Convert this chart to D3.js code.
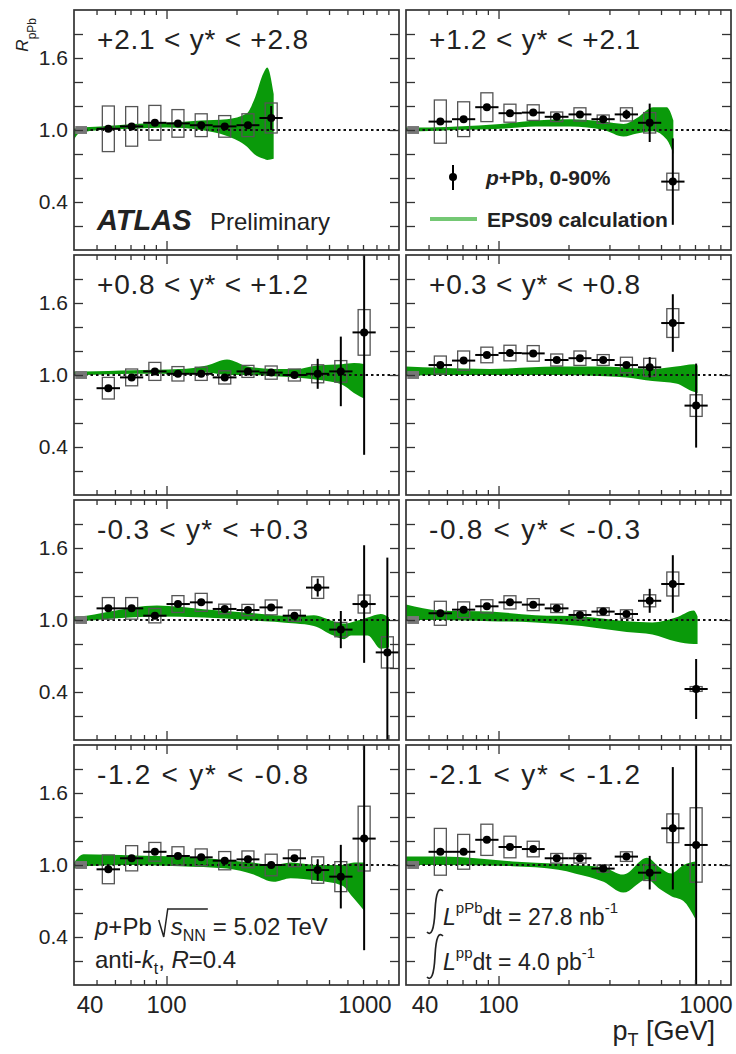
<!doctype html>
<html>
<head>
<meta charset="utf-8">
<script src="https://d3js.org/d3.v7.min.js"></script>
<style>
  body { margin: 0; background: #fff; }
  svg text { font-family: "Liberation Sans", Arial, sans-serif; fill: #222; }
</style>
</head>
<body>
<svg width="736" height="1054"></svg>
<script>
// jet pT bin centres and edges [GeV]
const ptCenters = [56.2, 70.8, 89.1, 112, 141, 178, 224, 282, 355, 447, 562, 708, 891];
const ptEdges = [50, 63.1, 79.4, 100, 126, 158, 200, 251, 316, 398, 501, 631, 794, 1000];

const yTitles = ["+2.1 < y* < +2.8", "+1.2 < y* < +2.1", "+0.8 < y* < +1.2", "+0.3 < y* < +0.8",
                 "-0.3 < y* < +0.3", "-0.8 < y* < -0.3", "-1.2 < y* < -0.8", "-2.1 < y* < -1.2"];

// R_pPb per rapidity panel
const ratio = [
  [1.01, 1.03, 1.06, 1.055, 1.04, 1.03, 1.04, 1.10],
  [1.07, 1.09, 1.19, 1.14, 1.145, 1.11, 1.13, 1.09, 1.13, 1.06, 0.57],
  [0.89, 0.98, 1.03, 1.01, 1.01, 0.98, 1.03, 1.02, 1.0, 1.01, 1.03, 1.355],
  [1.083, 1.12, 1.167, 1.183, 1.18, 1.125, 1.14, 1.125, 1.083, 1.064, 1.433, 0.745],
  [1.097, 1.097, 1.036, 1.133, 1.147, 1.092, 1.083, 1.105, 1.036, 1.27, 0.92, 1.133, 0.73],
  [1.056, 1.086, 1.114, 1.147, 1.128, 1.097, 1.042, 1.07, 1.05, 1.16, 1.30, 0.425],
  [0.964, 1.056, 1.11, 1.075, 1.064, 1.036, 1.047, 1.0, 1.056, 0.958, 0.903, 1.22],
  [1.11, 1.11, 1.21, 1.15, 1.133, 1.056, 1.056, 0.97, 1.07, 0.936, 1.306, 1.167]
];
// statistical uncertainty
const statErr = [
  [0.01, 0.01, 0.01, 0.01, 0.01, 0.015, 0.02, 0.10],
  [0.01, 0.01, 0.01, 0.01, 0.01, 0.01, 0.015, 0.02, 0.04, 0.16, 0.36],
  [0.01, 0.01, 0.01, 0.01, 0.01, 0.01, 0.01, 0.015, 0.02, 0.125, 0.29, 1.02],
  [0.01, 0.01, 0.01, 0.01, 0.01, 0.01, 0.01, 0.01, 0.02, 0.085, 0.24, 0.35],
  [0.01, 0.01, 0.01, 0.01, 0.01, 0.01, 0.01, 0.01, 0.02, 0.075, 0.155, 0.49, 0.79],
  [0.01, 0.01, 0.01, 0.01, 0.01, 0.01, 0.01, 0.01, 0.02, 0.10, 0.24, 0.25],
  [0.01, 0.01, 0.01, 0.01, 0.01, 0.01, 0.01, 0.015, 0.025, 0.09, 0.265, 0.93],
  [0.01, 0.01, 0.01, 0.01, 0.01, 0.01, 0.01, 0.01, 0.03, 0.14, 0.51, 1.2]
];
// systematic uncertainty (boxes)
const sysErr = [
  [0.19, 0.165, 0.145, 0.115, 0.095, 0.09, 0.095, 0.125],
  [0.18, 0.145, 0.12, 0.075, 0.065, 0.04, 0.055, 0.035, 0.055, 0.085, 0.07],
  [0.09, 0.07, 0.075, 0.06, 0.055, 0.055, 0.05, 0.055, 0.05, 0.075, 0.09, 0.19],
  [0.075, 0.08, 0.065, 0.065, 0.065, 0.05, 0.06, 0.045, 0.065, 0.075, 0.12, 0.09],
  [0.09, 0.09, 0.06, 0.07, 0.075, 0.04, 0.047, 0.062, 0.047, 0.09, 0.06, 0.075, 0.13],
  [0.1, 0.065, 0.055, 0.055, 0.05, 0.035, 0.035, 0.032, 0.035, 0.05, 0.1, 0.02],
  [0.12, 0.105, 0.078, 0.077, 0.07, 0.076, 0.07, 0.09, 0.07, 0.11, 0.125, 0.27],
  [0.195, 0.145, 0.13, 0.09, 0.065, 0.04, 0.04, 0.03, 0.04, 0.065, 0.12, 0.31]
];

// EPS09 band
const bandPt = [
  [40, 42, 52, 72, 100, 140, 182, 222, 238, 262, 271, 289],
  [40, 46, 66, 102, 144, 204, 284, 345, 394, 463, 529, 565],
  [40, 44, 72, 114, 149, 182, 224, 289, 359, 447, 568, 640, 714],
  [40, 56, 92, 178, 288, 356, 459, 580, 692, 718],
  [40, 42, 57, 91, 144, 224, 359, 430, 522, 580, 621, 733, 835, 905],
  [40, 56, 92, 144, 228, 356, 459, 580, 692, 718],
  [40, 44, 72, 114, 182, 237, 289, 342, 442, 568, 640, 714],
  [40, 42, 57, 115, 181, 213, 283, 344, 435, 494, 554, 624, 703]
];
const bandLo = [
  [0.92, 0.97, 1.0, 1.01, 1.02, 1.0, 0.95, 0.86, 0.80, 0.76, 0.75, 0.76],
  [0.99, 0.99, 1.0, 1.01, 1.03, 1.03, 1.0, 0.945, 0.97, 0.99, 0.92, 0.80],
  [1.0, 1.0, 1.01, 1.01, 1.02, 1.0, 1.0, 0.99, 0.98, 0.96, 0.92, 0.85, 0.80],
  [0.99, 1.0, 1.0, 1.0, 0.99, 0.98, 0.95, 0.93, 0.86, 0.85],
  [0.99, 0.99, 1.01, 1.03, 1.02, 1.0, 0.97, 0.95, 0.87, 0.84, 0.87, 0.87, 0.76, 0.77],
  [1.0, 1.0, 0.99, 0.98, 0.95, 0.90, 0.88, 0.82, 0.80, 0.80],
  [0.97, 0.99, 1.0, 0.99, 0.97, 0.92, 0.86, 0.89, 0.87, 0.83, 0.72, 0.61],
  [1.0, 1.0, 1.0, 0.99, 0.96, 0.93, 0.86, 0.77, 0.88, 0.80, 0.74, 0.70, 0.55]
];
const bandHi = [
  [1.01, 1.02, 1.03, 1.05, 1.06, 1.08, 1.09, 1.14, 1.25, 1.48, 1.52, 1.30],
  [1.02, 1.02, 1.03, 1.05, 1.08, 1.09, 1.07, 1.05, 1.10, 1.19, 1.19, 1.08],
  [1.03, 1.03, 1.04, 1.05, 1.08, 1.13, 1.07, 1.05, 1.05, 1.08, 1.09, 1.10, 1.09],
  [1.07, 1.06, 1.05, 1.07, 1.07, 1.06, 1.05, 1.07, 1.09, 1.08],
  [1.03, 1.03, 1.07, 1.12, 1.09, 1.06, 1.03, 1.04, 0.99, 0.97, 0.98, 1.02, 1.05, 1.02],
  [1.13, 1.08, 1.07, 1.04, 1.03, 0.99, 0.98, 1.02, 1.08, 1.03],
  [1.02, 1.09, 1.08, 1.07, 1.04, 1.02, 1.0, 1.02, 1.0, 1.0, 1.02, 1.02],
  [1.07, 1.07, 1.07, 1.03, 1.01, 1.0, 0.98, 0.92, 1.06, 0.98, 0.93, 1.0, 1.03]
];

const yTicks = [0.2, 0.4, 0.6, 0.8, 1.0, 1.2, 1.4, 1.6, 1.8];
const yLabels = [0.4, 1.0, 1.6];
const xMinor = [50, 60, 70, 80, 90, 200, 300, 400, 500, 600, 700, 800, 900];
const xMajor = [100];
const xLabels = [40, 100, 1000];
const normBox = [40.5, 45.5];  // pT range of the normalisation box
const normUnc = 0.033;

const svg = d3.select("svg");
const W = 325, H = 240;
const colX = [74, 406];
const rowY = [10, 255, 500, 745];

const x = d3.scaleLog().domain([40, 1000]).range([0, W]);
const y = d3.scaleLinear().domain([0, 2]).range([H, 0]);

const area = d3.area()
  .x(d => x(d.pt)).y0(d => y(d.lo)).y1(d => y(d.hi))
  .curve(d3.curveMonotoneX);

yTitles.forEach((title, i) => {
  const col = i % 2, row = Math.floor(i / 2);
  const g = svg.append("g").attr("transform", `translate(${colX[col]},${rowY[row]})`);

  g.append("clipPath").attr("id", "clip" + i)
    .append("rect").attr("width", W).attr("height", H);
  const plot = g.append("g").attr("clip-path", `url(#clip${i})`);

  // EPS09 band
  const band = bandPt[i].map((pt, k) => ({pt: pt, lo: bandLo[i][k], hi: bandHi[i][k]}));
  plot.append("path").datum(band).attr("d", area).attr("fill", "#0a9a0a");

  // unity line
  plot.append("line")
    .attr("x1", 0).attr("x2", W).attr("y1", y(1)).attr("y2", y(1))
    .attr("stroke", "#111").attr("stroke-width", 2.2).attr("stroke-dasharray", "2.5,3");

  const pts = ratio[i].map((v, k) => ({
    pt: ptCenters[k], lo: ptEdges[k], hi: ptEdges[k + 1],
    v: v, s: statErr[i][k], sys: sysErr[i][k]
  }));

  // systematic boxes
  plot.selectAll("rect.sys").data(pts).join("rect")
    .attr("x", d => x(d.pt) - 6).attr("width", 12)
    .attr("y", d => y(d.v + d.sys)).attr("height", d => y(d.v - d.sys) - y(d.v + d.sys))
    .attr("fill", "none").attr("stroke", "#555").attr("stroke-width", 1.3);

  // stat error bars
  plot.selectAll("line.ey").data(pts).join("line")
    .attr("x1", d => x(d.pt)).attr("x2", d => x(d.pt))
    .attr("y1", d => y(d.v - d.s)).attr("y2", d => y(d.v + d.s))
    .attr("stroke", "#000").attr("stroke-width", 2);
  plot.selectAll("line.ex").data(pts).join("line")
    .attr("x1", d => x(d.lo)).attr("x2", d => x(d.hi))
    .attr("y1", d => y(d.v)).attr("y2", d => y(d.v))
    .attr("stroke", "#000").attr("stroke-width", 2);
  plot.selectAll("circle").data(pts).join("circle")
    .attr("cx", d => x(d.pt)).attr("cy", d => y(d.v)).attr("r", 4).attr("fill", "#000");

  // normalisation box
  plot.append("rect")
    .attr("x", x(normBox[0])).attr("width", x(normBox[1]) - x(normBox[0]))
    .attr("y", y(1 + normUnc)).attr("height", y(1 - normUnc) - y(1 + normUnc))
    .attr("fill", "#777");

  // ticks (pointing inside)
  const axL = d3.axisLeft(y).tickValues(yTicks).tickSize(-9).tickPadding(6)
    .tickFormat(d => (col === 0 && yLabels.includes(d)) ? d3.format(".1f")(d) : "");
  const gl = g.append("g").call(axL);
  const gr = g.append("g").attr("transform", `translate(${W},0)`)
    .call(d3.axisRight(y).tickValues(yTicks).tickSize(-9).tickFormat(""));
  const gb1 = g.append("g").attr("transform", `translate(0,${H})`)
    .call(d3.axisBottom(x).tickValues(xMinor).tickSize(-5).tickFormat(""));
  const gb2 = g.append("g").attr("transform", `translate(0,${H})`)
    .call(d3.axisBottom(x).tickValues(xMajor).tickSize(-9).tickFormat(""));
  const gt1 = g.append("g").call(d3.axisTop(x).tickValues(xMinor).tickSize(-5).tickFormat(""));
  const gt2 = g.append("g").call(d3.axisTop(x).tickValues(xMajor).tickSize(-9).tickFormat(""));
  [gl, gr, gb1, gb2, gt1, gt2].forEach(a => {
    a.select(".domain").remove();
    a.selectAll(".tick line").attr("stroke", "#333").attr("stroke-width", 1.3);
  });
  gl.selectAll(".tick text").attr("font-size", 21).attr("fill", "#333")
    .attr("font-family", "Liberation Sans, Arial, sans-serif");

  // frame
  g.append("rect").attr("width", W).attr("height", H)
    .attr("fill", "none").attr("stroke", "#333").attr("stroke-width", 1.7);

  // rapidity title
  g.append("text").attr("x", 23).attr("y", 39)
    .attr("font-size", 28).attr("textLength", 211).attr("lengthAdjust", "spacing")
    .text(title);

  // x tick labels on the bottom row
  if (row === 3) {
    const shift = col === 0 ? [16, 0, -34] : [19, 0, -25];
    xLabels.forEach((v, k) => {
      g.append("text").attr("x", x(v) + shift[k]).attr("y", H + 28)
        .attr("text-anchor", "middle").attr("font-size", 24).text(v);
    });
  }
});

// y-axis title
svg.append("text").attr("transform", "translate(28,18) rotate(-90)")
  .attr("text-anchor", "end").attr("font-size", 17)
  .call(t => {
    t.append("tspan").attr("font-style", "italic").text("R");
    t.append("tspan").attr("font-size", 12).attr("dy", 8).text("pPb");
  });

// x-axis title
svg.append("text").attr("x", 715).attr("y", 1040).attr("text-anchor", "end")
  .attr("font-size", 27)
  .call(t => {
    t.append("tspan").text("p");
    t.append("tspan").attr("font-size", 18).attr("dy", 6).text("T");
    t.append("tspan").attr("dy", -6).text(" [GeV]");
  });

// ATLAS label
svg.append("text").attr("x", 97).attr("y", 230).attr("font-size", 29)
  .attr("font-weight", "bold").attr("font-style", "italic").text("ATLAS");
svg.append("text").attr("x", 210).attr("y", 230).attr("font-size", 24).text("Preliminary");

// legend
svg.append("line").attr("x1", 453).attr("x2", 453).attr("y1", 165).attr("y2", 190)
  .attr("stroke", "#000").attr("stroke-width", 2);
svg.append("circle").attr("cx", 453).attr("cy", 177).attr("r", 4).attr("fill", "#000");
svg.append("text").attr("x", 486).attr("y", 185).attr("font-size", 21).attr("font-weight", "bold")
  .call(t => {
    t.append("tspan").attr("font-style", "italic").text("p");
    t.append("tspan").text("+Pb, 0-90%");
  });
svg.append("line").attr("x1", 430).attr("x2", 477).attr("y1", 219).attr("y2", 219)
  .attr("stroke", "#74c874").attr("stroke-width", 4);
svg.append("text").attr("x", 487).attr("y", 227).attr("font-size", 21).attr("font-weight", "bold")
  .text("EPS09 calculation");

// collision system text (bottom left)
const t1 = svg.append("text").attr("x", 95).attr("y", 935).attr("font-size", 24)
  .call(t => {
    t.append("tspan").attr("font-style", "italic").text("p");
    t.append("tspan").text("+Pb");
  });
const sx = 95 + t1.node().getComputedTextLength() + 7;
const t2 = svg.append("text").attr("x", sx + 12).attr("y", 935).attr("font-size", 24)
  .call(t => {
    t.append("tspan").attr("font-style", "italic").text("s");
    t.append("tspan").attr("font-size", 16).attr("dy", 6).text("NN");
  });
const ex = sx + 12 + t2.node().getComputedTextLength() + 2;
svg.append("path").attr("d", `M${sx},920 L${sx + 5},937 L${sx + 9},909 L${ex},909`)
  .attr("fill", "none").attr("stroke", "#222").attr("stroke-width", 1.5);
svg.append("text").attr("x", ex + 5).attr("y", 935).attr("font-size", 24).text("= 5.02 TeV");
svg.append("text").attr("x", 95).attr("y", 968).attr("font-size", 24)
  .call(t => {
    t.append("tspan").text("anti-");
    t.append("tspan").attr("font-style", "italic").text("k");
    t.append("tspan").attr("font-size", 16).attr("dy", 6).text("t");
    t.append("tspan").attr("dy", -6).text(", ");
    t.append("tspan").attr("font-style", "italic").text("R");
    t.append("tspan").text("=0.4");
  });

// luminosity text (bottom right)
[[925, "pPb", "dt = 27.8 nb"], [970, "pp", "dt = 4.0 pb"]].forEach(([yy, sup, rest]) => {
  svg.append("path")
    .attr("d", `M427,${yy + 7} C431,${yy + 11} 434,${yy + 6} 435,${yy - 14} C436,${yy - 34} 439,${yy - 38} 443,${yy - 34}`)
    .attr("fill", "none").attr("stroke", "#222").attr("stroke-width", 1.7);
  svg.append("text").attr("x", 443).attr("y", yy).attr("font-size", 23)
    .call(t => {
      t.append("tspan").attr("font-style", "italic").text("L");
      t.append("tspan").attr("font-size", 15).attr("dy", -12).text(sup);
      t.append("tspan").attr("dy", 12).text(rest);
      t.append("tspan").attr("font-size", 15).attr("dy", -12).text("-1");
    });
});
</script>
</body>
</html>
